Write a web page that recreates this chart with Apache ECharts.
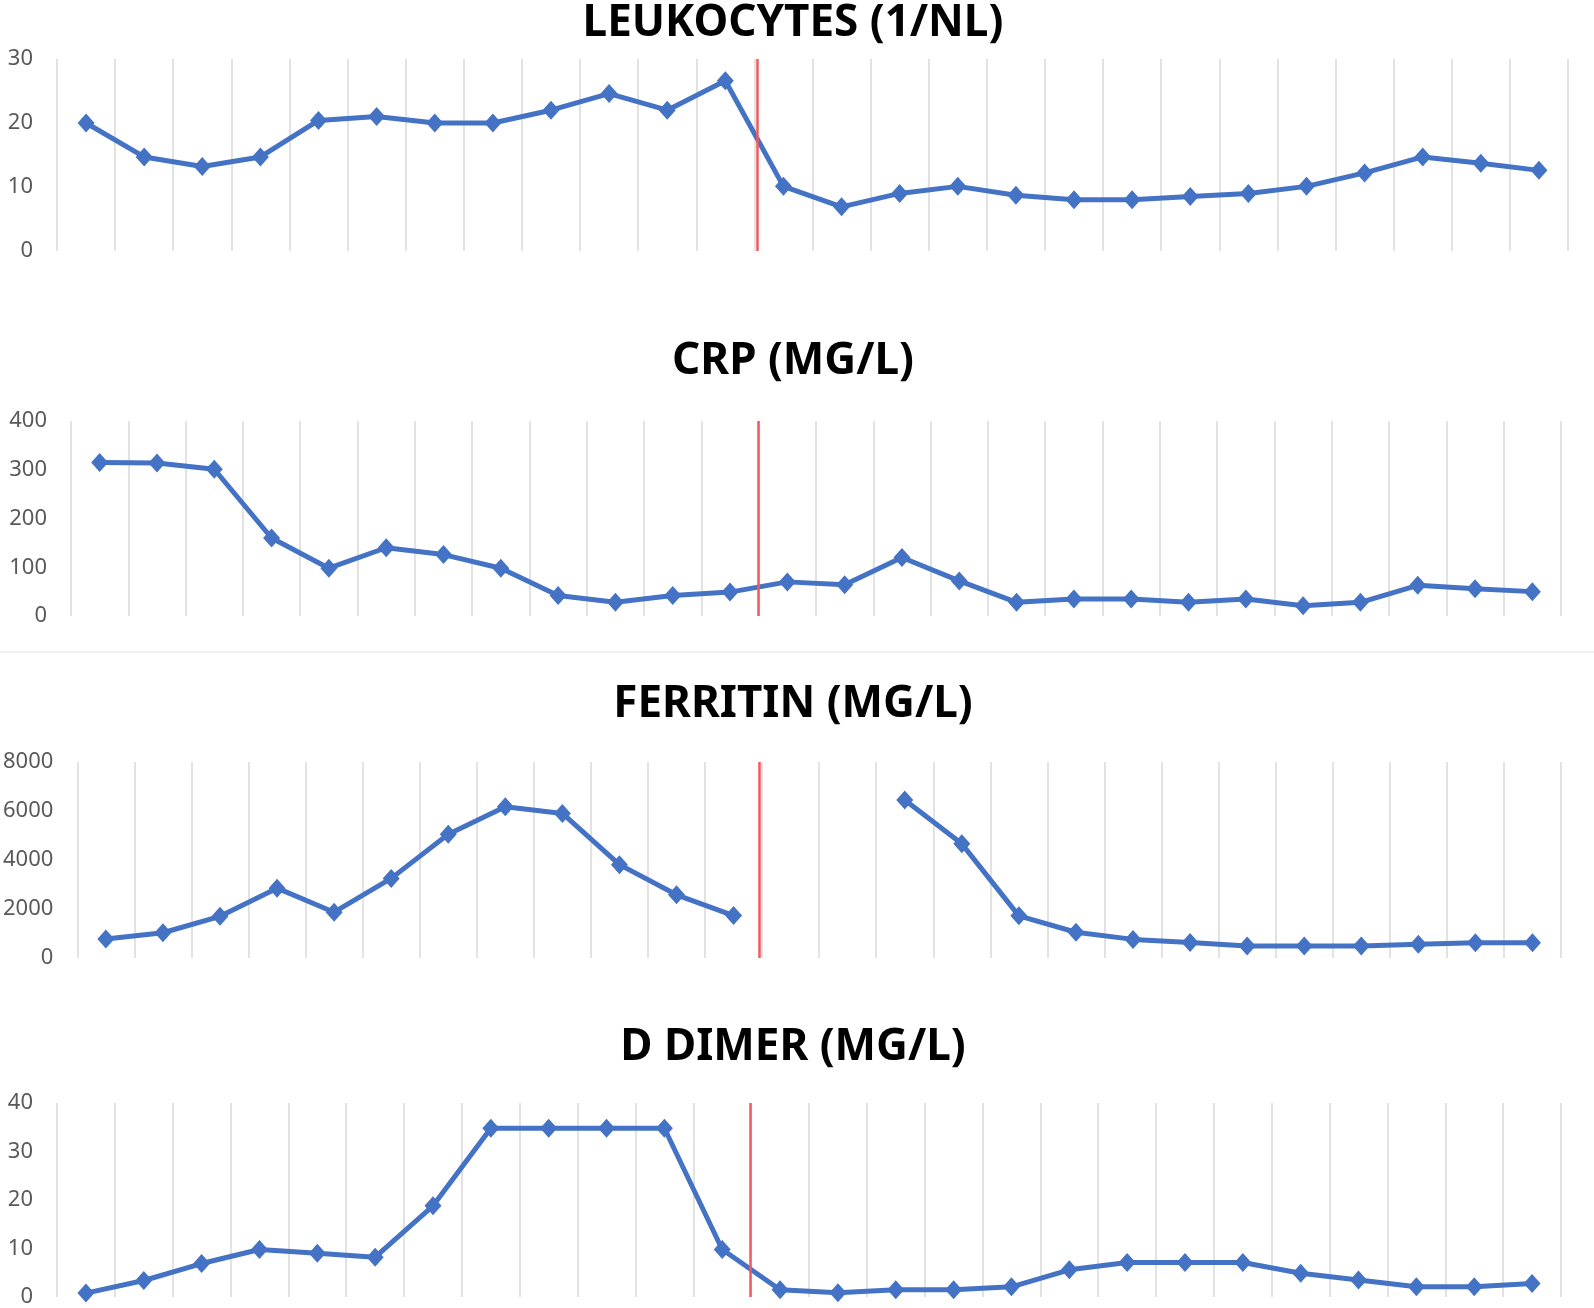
<!DOCTYPE html>
<html>
<head>
<meta charset="utf-8">
<script src="https://cdn.jsdelivr.net/npm/echarts@6/dist/echarts.min.js"></script>
<style>
  html, body { margin: 0; padding: 0; background: #ffffff; }
  #chart { width: 1594px; height: 1308px; }
</style>
</head>
<body>
<div id="chart"></div>
<script>
// ---- data ----
const days = Array.from({length: 26}, (_, i) => 'Day ' + (i + 1));
const dividerIndex = 12; // boundary between day 12 and day 13

const titles = ['LEUKOCYTES (1/NL)', 'CRP (MG/L)', 'FERRITIN (MG/L)', 'D DIMER (MG/L)'];

const leukocytes = [20, 14.7, 13.2, 14.7, 20.4, 21, 20, 20, 22, 24.6, 22, 26.6,
                    10.1, 6.9, 9, 10.1, 8.7, 8, 8, 8.5, 9, 10.1, 12.2, 14.7, 13.7, 12.6];
const crp = [315, 314, 301, 160, 98, 140, 126, 98, 42, 28, 42, 49,
             70, 64, 120, 72, 28, 35, 35, 28, 35, 21, 28, 63, 56, 50];
const ferritin = [780, 1030, 1700, 2850, 1870, 3250, 5050, 6170, 5900, 3810, 2580, 1730,
                  null, null, 6450, 4660, 1720, 1050, 760, 630, 490, 490, 490, 560, 620, 620];
const dDimer = [0.8, 3.4, 6.9, 9.8, 9.0, 8.2, 18.8, 34.8, 34.8, 34.8, 34.8, 9.8,
                1.5, 0.9, 1.5, 1.5, 2.1, 5.6, 7.1, 7.1, 7.1, 4.9, 3.5, 2.1, 2.1, 2.8];

const seriesData = [leukocytes, crp, ferritin, dDimer];
const yMax = [30, 400, 8000, 40];
const yStep = [10, 100, 2000, 10];

// ---- layout ----
const grids = [
  {left: 57, top: 59, width: 1511, height: 192},
  {left: 71, top: 421, width: 1490, height: 195},
  {left: 77, top: 762, width: 1484, height: 196},
  {left: 57, top: 1103, width: 1504, height: 194}
];
const titleCenters = [18, 356, 699, 1042];
const dividerShift = [0.05, 0, -0.05, -0.02]; // small drawing offsets of the red marker

const BLUE = '#4472C4';
const RED = '#F4585E';

const option = {
  backgroundColor: '#ffffff',
  animation: false,
  title: titles.map((t, i) => ({
    text: t,
    left: 788,
    textAlign: 'center',
    top: titleCenters[i] - 24,
    textStyle: {
      fontFamily: 'Noto Sans',
      fontWeight: 'bold',
      fontSize: 44,
      lineHeight: 48,
      color: '#000000'
    }
  })),
  grid: grids,
  xAxis: [],
  yAxis: [],
  series: [],
  graphic: [{
    type: 'rect',
    shape: {x: 0, y: 651, width: 1594, height: 2},
    style: {fill: '#efefef'},
    silent: true
  }]
};

grids.forEach((g, i) => {
  option.xAxis.push({
    type: 'category',
    gridIndex: i,
    data: days,
    boundaryGap: true,
    axisLine: {show: false},
    axisTick: {show: false},
    axisLabel: {show: false},
    splitLine: {show: true, interval: 0, lineStyle: {color: '#e2e2e2', width: 2}}
  });
  option.xAxis.push({
    type: 'value',
    gridIndex: i,
    min: 0,
    max: days.length,
    show: false
  });
  option.yAxis.push({
    type: 'value',
    gridIndex: i,
    min: 0,
    max: yMax[i],
    interval: yStep[i],
    axisLine: {show: false},
    axisTick: {show: false},
    splitLine: {show: false},
    axisLabel: {
      fontFamily: 'Noto Sans',
      fontSize: 22,
      color: '#595959',
      margin: 24,
      formatter: v => String(v)
    }
  });
  option.series.push({
    type: 'line',
    xAxisIndex: i * 2,
    yAxisIndex: i,
    data: seriesData[i],
    connectNulls: false,
    symbol: 'diamond',
    symbolSize: [17, 19],
    itemStyle: {color: BLUE},
    lineStyle: {color: BLUE, width: 5},
    z: 3
  });
  option.series.push({
    type: 'line',
    xAxisIndex: i * 2 + 1,
    yAxisIndex: i,
    data: [],
    markLine: {
      silent: true,
      symbol: 'none',
      label: {show: false},
      lineStyle: {color: RED, width: 2.5, type: 'solid'},
      data: [{xAxis: dividerIndex + dividerShift[i]}]
    },
    z: 4
  });
});

const chart = echarts.init(document.getElementById('chart'), null, {renderer: 'canvas'});
chart.setOption(option);
</script>
</body>
</html>
